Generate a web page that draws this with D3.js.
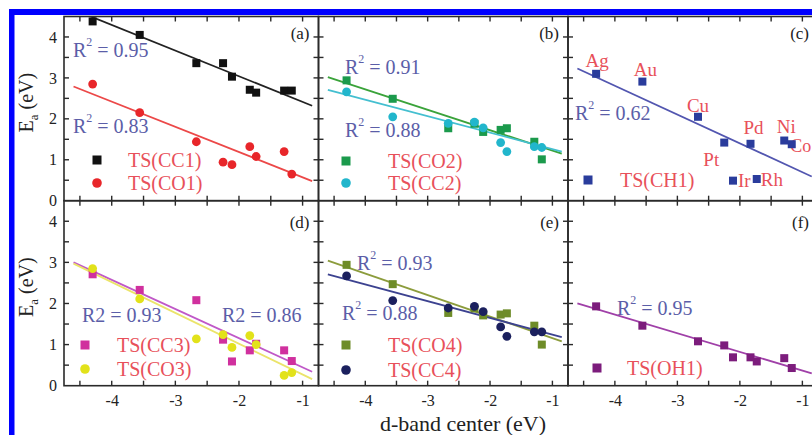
<!DOCTYPE html>
<html><head><meta charset="utf-8">
<script src="https://cdn.jsdelivr.net/npm/d3@7"></script>
<style>body{margin:0;background:#fff}svg{display:block}</style>
</head><body>
<svg id="chart" width="812" height="435"></svg>
<script>
// ---------- data ----------
const metals = ["Ag","Au","Cu","Pt","Ir","Pd","Rh","Ni","Co"];
const dband  = [-4.30,-3.56,-2.67,-2.25,-2.11,-1.83,-1.73,-1.29,-1.17];
const tsCC1 = [4.38,4.05,3.36,3.36,3.03,2.71,2.64,2.69,2.69];
const tsCO1 = [2.85,2.15,1.44,0.94,0.88,1.32,1.08,1.20,0.65];
const tsCO2 = [2.94,2.49,1.77,1.88,1.68,1.73,1.77,1.44,1.01];
const tsCC2 = [2.66,2.05,1.89,1.92,1.78,1.42,1.20,1.32,1.30];
const tsCH1 = [3.10,2.91,2.05,1.42,0.49,1.39,0.53,1.47,1.38];
const tsCC3 = [2.71,2.33,2.08,1.12,0.59,0.86,1.02,0.86,0.60];
const tsCO3 = [2.85,2.11,1.14,1.24,0.93,1.22,1.00,0.25,0.32];
const tsCO4 = [2.94,2.47,1.77,1.88,1.71,1.73,1.76,1.46,1.00];
const tsCC4 = [2.67,2.07,1.89,1.93,1.80,1.43,1.20,1.31,1.31];
const tsOH1 = [1.93,1.46,1.08,0.98,0.69,0.69,0.59,0.67,0.43];
// fitted lines: values at fitX ends
const fitX = [-4.6,-0.85];
const fitCC1 = [4.67,2.32];
const fitCO1 = [2.79,0.48];
const fitCO2 = [3.02,1.15];
const fitCC2 = [2.71,1.20];
const fitCH1 = [3.23,0.59];
const fitCC3 = [3.00,0.34];
const fitCO3 = [2.97,0.16];
const fitCO4 = [3.04,1.08];
const fitCC4 = [2.71,1.18];
const fitOH1 = [2.00,0.30];
const yTicks = [0,1,2,3,4];
const xTicks = [-4,-3,-2,-1];
const panelTags = ["(a)","(b)","(c)","(d)","(e)","(f)"];

// ---------- layout ----------
const svg = d3.select("#chart");
const FONT = "'Liberation Serif','Times New Roman',serif";
const colL = [64,318.5,568], colR = [318.5,568,818];
const rowT = [16.5,200.7], rowB = [200.7,385.7];
const RED_TXT = "#e8505a", R2_TXT = "#5b5ea8";

// blue frame
svg.append("rect").attr("x",9).attr("y",9).attr("width",803).attr("height",6).attr("fill","#0000ff");
svg.append("rect").attr("x",9).attr("y",9).attr("width",5.5).attr("height",426).attr("fill","#0000ff");

const panels = [
 {c:0,r:0,series:[
   {v:tsCC1,fit:fitCC1,shape:"sq",col:"#111111",line:"#222222",name:"TS(CC1)"},
   {v:tsCO1,fit:fitCO1,shape:"ci",col:"#e8262a",line:"#ec4848",name:"TS(CO1)"}],
   r2:[["R","2"," = 0.95",73,50],["R","2"," = 0.83",73,126]],
   leg:[33,64,[160,183]]},
 {c:1,r:0,series:[
   {v:tsCO2,fit:fitCO2,shape:"sq",col:"#1b9a4c",line:"#3aa33a",name:"TS(CO2)"},
   {v:tsCC2,fit:fitCC2,shape:"ci",col:"#22b6cc",line:"#44bfd0",name:"TS(CC2)"}],
   r2:[["R","2"," = 0.91",345,67],["R","2"," = 0.88",345,130]],
   leg:[27.5,69.5,[161,183]]},
 {c:2,r:0,series:[
   {v:tsCH1,fit:fitCH1,shape:"sq",col:"#2a3c9c",line:"#5256b0",name:"TS(CH1)"}],
   r2:[["R","2"," = 0.62",575,113]],
   leg:[20,52,[180]], metalsLbl:true},
 {c:0,r:1,series:[
   {v:tsCC3,fit:fitCC3,shape:"sq",col:"#d0309e",line:"#c058c8",name:"TS(CC3)"},
   {v:tsCO3,fit:fitCO3,shape:"ci",col:"#e2e21a",line:"#ebe46a",name:"TS(CO3)"}],
   r2:[["R2","",  " = 0.93",82,315],["R2",""," = 0.86",222,315]],
   leg:[21,53,[345,369]]},
 {c:1,r:1,series:[
   {v:tsCO4,fit:fitCO4,shape:"sq",col:"#6e8c28",line:"#8c9c3c",name:"TS(CO4)"},
   {v:tsCC4,fit:fitCC4,shape:"ci",col:"#1b205e",line:"#3c4290",name:"TS(CC4)"}],
   r2:[["R","2"," = 0.93",357,263],["R","2"," = 0.88",342,313]],
   leg:[27.5,69.5,[345,370]]},
 {c:2,r:1,series:[
   {v:tsOH1,fit:fitOH1,shape:"sq",col:"#7c1c7c",line:"#a040a8",name:"TS(OH1)"}],
   r2:[["R","2"," = 0.95",617,308]],
   leg:[29,59,[368]]}
];

const metalOff = {Ag:[1,-13,"middle",19],Au:[3,-12,"middle",19],Cu:[0,-11,"middle",19],Pt:[-13,17,"middle",19],
  Pd:[3,-16,"middle",19],Ni:[2,-14,"middle",19],Co:[-1.5,2,"start",18],Ir:[5,0,"start",19],Rh:[4,0,"start",19]};

const defs = svg.append("defs");

panels.forEach((p,pi)=>{
  const x = d3.scaleLinear().domain([-4.75,-0.75]).range([colL[p.c],colR[p.c]]);
  const y = d3.scaleLinear().domain([0,4.5]).range([rowB[p.r],rowT[p.r]]);
  const g = svg.append("g");
  const cid = "clip"+pi;
  defs.append("clipPath").attr("id",cid).append("rect")
    .attr("x",colL[p.c]).attr("y",rowT[p.r]).attr("width",colR[p.c]-colL[p.c]).attr("height",rowB[p.r]-rowT[p.r]);
  const inner = g.append("g").attr("clip-path",`url(#${cid})`);
  // fit lines
  p.series.forEach(s=>{
    inner.append("line").attr("x1",x(fitX[0])).attr("y1",y(s.fit[0]))
      .attr("x2",x(fitX[1])).attr("y2",y(s.fit[1]))
      .attr("stroke",s.line).attr("stroke-width",1.8);
  });
  // metal labels (drawn under the markers)
  if(p.metalsLbl){
    metals.forEach((m,i)=>{
      const o=metalOff[m];
      g.append("text").attr("x",x(dband[i])+o[0]).attr("y",y(p.series[0].v[i])+o[1])
        .attr("text-anchor",o[2]).attr("dominant-baseline","central")
        .attr("font-family",FONT).attr("font-size",o[3]).attr("fill",RED_TXT).text(m);
    });
  }
  // points
  const pts = g.append("g").attr("clip-path",`url(#${cid})`);
  p.series.forEach(s=>{
    s.v.forEach((v,i)=>{
      const cx=x(dband[i]), cy=y(v);
      if(s.shape==="sq") pts.append("rect").attr("x",cx-4).attr("y",cy-4).attr("width",8).attr("height",8).attr("fill",s.col);
      else pts.append("circle").attr("cx",cx).attr("cy",cy).attr("r",4.4).attr("fill",s.col);
    });
  });
  // frame
  g.append("rect").attr("x",colL[p.c]).attr("y",rowT[p.r]).attr("width",colR[p.c]-colL[p.c])
    .attr("height",rowB[p.r]-rowT[p.r]).attr("fill","none").attr("stroke","#2a2a2a").attr("stroke-width",1.6);
  // ticks (inward)
  const tl=5;
  d3.range(-4.5,-0.99,0.5).forEach(t=>{
    const tx=x(t);
    g.append("line").attr("x1",tx).attr("x2",tx).attr("y1",rowB[p.r]).attr("y2",rowB[p.r]-tl).attr("stroke","#2a2a2a").attr("stroke-width",1.4);
    g.append("line").attr("x1",tx).attr("x2",tx).attr("y1",rowT[p.r]).attr("y2",rowT[p.r]+tl).attr("stroke","#2a2a2a").attr("stroke-width",1.4);
  });
  d3.range(0.5,4.01,0.5).forEach(t=>{
    const ty=y(t);
    g.append("line").attr("y1",ty).attr("y2",ty).attr("x1",colL[p.c]).attr("x2",colL[p.c]+tl).attr("stroke","#2a2a2a").attr("stroke-width",1.4);
    g.append("line").attr("y1",ty).attr("y2",ty).attr("x1",colR[p.c]).attr("x2",colR[p.c]-tl).attr("stroke","#2a2a2a").attr("stroke-width",1.4);
  });
  // y tick labels
  if(p.c===0){
    const ax = g.append("g").attr("transform",`translate(${colL[0]},0)`)
      .call(d3.axisLeft(y).tickValues(yTicks).tickFormat(d3.format("d")).tickSize(0).tickPadding(7));
    ax.select(".domain").remove();
    ax.selectAll("text").attr("font-family",FONT).attr("font-size",16).attr("fill","#222");
    // y label
    const yl = g.append("text").attr("transform",`translate(33,${(rowT[p.r]+rowB[p.r])/2-6}) rotate(-90)`)
      .attr("text-anchor","middle").attr("font-family",FONT).attr("font-size",20).attr("fill","#222");
    yl.append("tspan").text("E");
    yl.append("tspan").attr("font-size",13).attr("dy",5).text("a");
    yl.append("tspan").attr("dy",-5).text(" (eV)");
  }
  // x tick labels
  if(p.r===1){
    const ax = g.append("g").attr("transform",`translate(0,${rowB[1]})`)
      .call(d3.axisBottom(x).tickValues(xTicks).tickFormat(d=>"-"+Math.abs(d)).tickSize(0).tickPadding(9));
    ax.select(".domain").remove();
    ax.selectAll("text").attr("font-family",FONT).attr("font-size",16).attr("fill","#222");
  }
  // panel tag
  g.append("text").attr("x",colR[p.c]-9).attr("y",rowT[p.r]+(p.r===0?16.5:21.5))
    .attr("text-anchor","end").attr("dominant-baseline","central")
    .attr("font-family",FONT).attr("font-size",17).attr("fill","#222").text(panelTags[pi]);
  // R2 labels
  p.r2.forEach(r=>{
    const t=g.append("text").attr("x",r[3]).attr("y",r[4]).attr("dominant-baseline","central")
      .attr("font-family",FONT).attr("font-size",20).attr("fill",R2_TXT);
    t.append("tspan").text(r[0]);
    if(r[1]){ t.append("tspan").attr("font-size",12).attr("dy",-8).text(r[1]);
      t.append("tspan").attr("dy",8).text(r[2]); }
    else t.append("tspan").text(r[2]);
  });
  // legend
  p.series.forEach((s,i)=>{
    const ly=p.leg[2][i], mx=colL[p.c]+p.leg[0];
    if(s.shape==="sq") g.append("rect").attr("x",mx-4.5).attr("y",ly-4.5).attr("width",9).attr("height",9).attr("fill",s.col);
    else g.append("circle").attr("cx",mx).attr("cy",ly).attr("r",4.8).attr("fill",s.col);
    g.append("text").attr("x",colL[p.c]+p.leg[1]).attr("y",ly).attr("dominant-baseline","central")
      .attr("font-family",FONT).attr("font-size",20).attr("fill",RED_TXT).text(s.name);
  });
});

// x axis label
svg.append("text").attr("x",463).attr("y",423).attr("text-anchor","middle").attr("dominant-baseline","central")
  .attr("font-family",FONT).attr("font-size",22).attr("fill","#222").text("d-band center (eV)");
</script>
</body></html>
